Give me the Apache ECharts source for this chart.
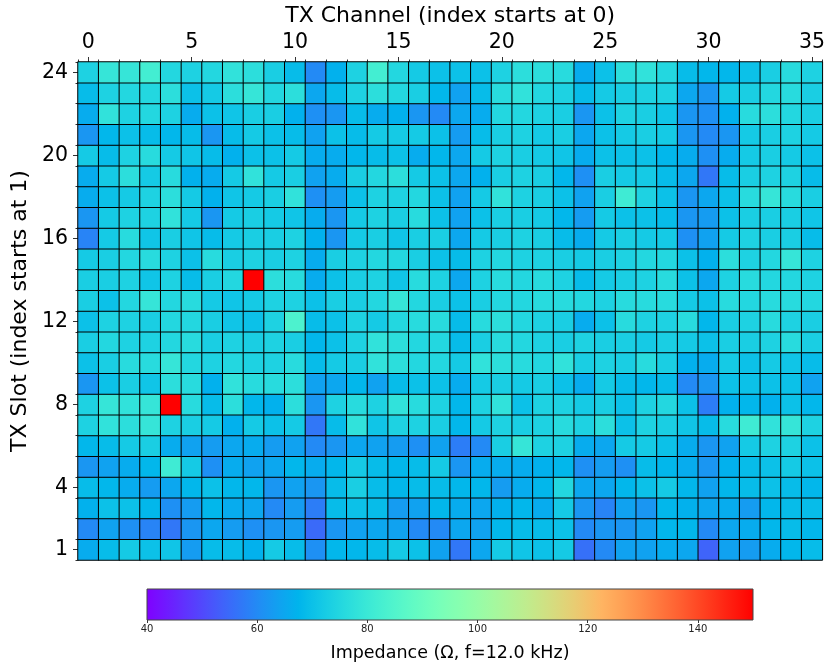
<!DOCTYPE html>
<html>
<head>
<meta charset="utf-8">
<script src="https://cdn.jsdelivr.net/npm/echarts@6/dist/echarts.min.js"></script>
<style>
  html, body { margin: 0; padding: 0; background: #fff; }
  #chart { width: 828px; height: 663px; }
</style>
</head>
<body>
<div id="chart"></div>
<script>
// TX channels (columns) and TX slots (rows)
const channels = ['0','1','2','3','4','5','6','7','8','9','10','11','12','13','14','15','16','17',
                  '18','19','20','21','22','23','24','25','26','27','28','29','30','31','32','33','34','35'];
const slots = ['1','2','3','4','5','6','7','8','9','10','11','12',
               '13','14','15','16','17','18','19','20','21','22','23','24'];
const slotTickLabels = ['1','4','8','12','16','20','24'];
const channelTickLabels = ['0','5','10','15','20','25','30','35'];
const colorbarTicks = [40, 60, 80, 100, 120, 140];

// Impedance in ohms, one row per slot (slot 1 first), one value per channel 0..35
const impedance = [
  [66,69,72,70,71,63,69,69,67,72,69,61, 68,68,69,72,70,64,57,65,72,71,70,72, 56,60,64,64,66,65,54,64,63,66,68,69],
  [60,64,61,59,57,62,65,63,61,62,63,55, 62,64,65,64,60,60,65,64,68,69,69,70, 60,62,62,64,68,68,60,65,66,68,69,68],
  [67,70,70,68,61,63,68,66,65,60,63,58, 69,70,69,63,64,68,66,65,67,68,66,72, 62,59,64,62,68,67,65,66,63,68,69,69],
  [69,68,66,63,65,68,70,68,68,62,64,62, 69,73,69,68,69,69,68,68,63,66,68,75, 65,65,68,70,72,68,64,68,69,70,69,68],
  [62,64,66,68,81,72,61,66,64,65,68,66, 68,72,69,68,69,72,62,66,66,66,67,68, 61,63,61,69,68,66,62,67,69,70,72,70],
  [68,69,72,73,66,64,63,65,66,63,64,60, 62,65,64,63,61,64,58,60,73,79,74,74, 66,65,72,72,70,66,62,64,72,74,74,70],
  [74,78,77,79,74,73,72,67,72,70,72,57, 69,78,71,74,74,73,68,72,74,73,74,76, 74,77,70,74,73,71,69,76,81,78,79,74],
  [74,79,78,79,150,76,69,77,68,67,77,62, 74,76,74,78,76,74,68,74,78,70,74,74, 72,73,70,74,75,70,58,67,68,67,70,68],
  [62,70,73,71,77,76,67,78,76,76,77,64, 65,68,64,69,70,70,66,72,73,72,73,70, 66,72,69,68,69,60,62,70,70,70,70,64],
  [70,73,76,76,79,75,74,75,74,74,76,69, 72,73,78,77,75,75,72,78,77,76,75,78, 73,74,73,76,73,67,66,72,70,72,71,69],
  [73,75,74,74,75,76,73,74,73,74,73,68, 70,74,78,77,75,75,69,73,76,75,74,73, 74,73,73,72,73,72,70,73,73,74,76,73],
  [70,74,74,73,75,75,73,71,70,74,84,69, 70,74,72,75,76,76,69,76,77,75,74,73, 66,70,76,74,74,76,68,73,74,76,74,73],
  [73,70,75,79,75,76,72,71,72,74,74,70, 73,73,75,79,75,73,70,73,75,75,76,76, 75,74,76,76,76,72,70,76,75,76,76,75],
  [73,73,74,71,74,69,73,75,150,77,76,66, 70,73,74,71,76,74,65,74,76,75,76,74, 69,72,73,74,76,70,65,74,76,75,75,74],
  [72,73,75,76,74,70,76,73,74,73,74,66, 73,74,75,75,73,70,69,74,75,74,74,73, 72,73,74,75,75,70,67,77,74,75,79,74],
  [59,72,76,71,73,71,69,72,73,73,74,67, 62,72,73,71,73,73,65,72,73,74,73,69, 66,72,73,72,72,61,64,72,74,73,73,69],
  [62,72,74,74,78,72,62,72,73,72,71,66, 62,72,74,73,76,70,64,70,73,73,72,68, 63,72,70,70,69,62,63,70,73,73,73,71],
  [66,70,72,74,77,72,67,71,72,73,78,61, 63,70,74,74,75,70,64,72,78,74,73,70, 64,73,81,74,70,62,65,70,76,79,76,73],
  [66,72,77,72,76,67,66,72,78,72,73,64, 66,73,75,77,72,70,65,67,73,74,73,68, 61,73,72,72,69,65,57,69,73,74,74,69],
  [72,69,74,76,72,71,69,67,70,70,72,66, 66,68,69,70,66,68,65,72,74,73,72,71, 66,70,70,70,68,66,61,66,72,73,72,70],
  [62,68,70,69,68,69,62,69,72,70,69,64, 70,69,72,72,72,70,63,69,73,74,72,73, 65,70,72,73,72,62,60,62,72,73,74,72],
  [66,78,74,75,74,66,70,71,73,73,67,61, 62,69,66,67,62,60,65,66,75,75,74,73, 62,70,74,73,71,62,61,67,76,77,75,73],
  [69,74,75,75,77,70,72,77,79,75,77,65, 69,74,77,75,73,68,64,69,76,78,75,74, 69,72,73,74,74,65,62,72,73,75,76,73],
  [74,79,79,82,75,74,75,78,77,73,69,60, 67,74,82,75,72,70,70,70,74,77,77,76, 66,70,77,78,75,69,68,68,70,73,76,74]
];

const vMin = 40, vMax = 150;

// matplotlib-style "rainbow" colormap
function rainbow(t) {
  const r = Math.min(1, Math.abs(2 * t - 0.5));
  const g = Math.max(0, Math.sin(Math.PI * t));
  const b = Math.max(0, Math.cos(Math.PI * t / 2));
  const h = v => Math.round(v * 255);
  return 'rgb(' + h(r) + ',' + h(g) + ',' + h(b) + ')';
}
const nStops = 64;
const rampColors = [];
const gradientStops = [];
for (let i = 0; i <= nStops; i++) {
  const t = i / nStops;
  rampColors.push(rainbow(t));
  gradientStops.push({ offset: t, color: rainbow(t) });
}

const cells = [];
impedance.forEach((row, s) => {
  row.forEach((v, c) => cells.push([c, s, v]));
});

const font = 'DejaVu Sans';
const tickFont = 20.5;
const nameFont = 22;

// colorbar placement
const cb = { left: 147, top: 589, width: 606, height: 31 };

const chart = echarts.init(document.getElementById('chart'), null, { renderer: 'canvas' });
chart.setOption({
  animation: false,
  backgroundColor: '#fff',
  textStyle: { fontFamily: font },
  grid: [
    { left: 78, top: 62, width: 747, height: 498 },
    { left: cb.left, top: cb.top, width: cb.width, height: cb.height }
  ],
  xAxis: [
    {
      type: 'category',
      gridIndex: 0,
      position: 'top',
      data: channels,
      name: 'TX Channel (index starts at 0)',
      nameLocation: 'middle',
      nameGap: 31,
      nameTextStyle: { fontSize: nameFont, color: '#000', fontFamily: font },
      axisLine: { show: true, lineStyle: { color: '#333', width: 1 } },
      axisTick: {
        show: true, alignWithLabel: true, length: 5,
        interval: (i, v) => channelTickLabels.includes(v),
        lineStyle: { color: '#333' }
      },
      axisLabel: {
        fontSize: tickFont, color: '#000', margin: 9, fontFamily: font,
        interval: (i, v) => channelTickLabels.includes(v)
      },
      splitLine: { show: false }
    },
    {
      type: 'value',
      gridIndex: 1,
      min: vMin, max: vMax, interval: 20,
      name: 'Impedance (Ω, f=12.0 kHz)',
      nameLocation: 'middle',
      nameGap: 25,
      nameTextStyle: { fontSize: 17.5, color: '#000', fontFamily: font },
      axisLine: { show: false },
      axisTick: { show: true, length: 4, lineStyle: { color: '#333' } },
      axisLabel: {
        fontSize: 10, color: '#222', margin: 5, fontFamily: font,
        showMaxLabel: false,
        formatter: v => (colorbarTicks.includes(v) ? String(v) : '')
      },
      splitLine: { show: false }
    },
    {
      // minor ticks on the cell edges along the channel axis
      type: 'category',
      gridIndex: 0,
      position: 'top',
      data: channels,
      axisLine: { show: false },
      axisTick: { show: true, interval: 0, length: 2.5, lineStyle: { color: '#333' } },
      axisLabel: { show: false },
      splitLine: { show: false }
    }
  ],
  yAxis: [
    {
      type: 'category',
      gridIndex: 0,
      data: slots,
      name: 'TX Slot (index starts at 1)',
      nameLocation: 'middle',
      nameGap: 39,
      nameRotate: 90,
      nameTextStyle: { fontSize: nameFont, color: '#000', fontFamily: font },
      axisLine: { show: true, lineStyle: { color: '#333', width: 1 } },
      axisTick: {
        show: true, alignWithLabel: true, length: 5,
        interval: (i, v) => slotTickLabels.includes(v),
        lineStyle: { color: '#333' }
      },
      axisLabel: {
        fontSize: tickFont, color: '#000', margin: 10, fontFamily: font,
        interval: (i, v) => slotTickLabels.includes(v)
      },
      splitLine: { show: false }
    },
    { type: 'value', gridIndex: 1, show: false, min: 0, max: 1 },
    {
      // minor ticks on the cell edges along the slot axis
      type: 'category',
      gridIndex: 0,
      position: 'left',
      data: slots,
      axisLine: { show: false },
      axisTick: { show: true, interval: 0, length: 2.5, lineStyle: { color: '#333' } },
      axisLabel: { show: false },
      splitLine: { show: false }
    }
  ],
  visualMap: {
    type: 'continuous',
    show: false,
    min: vMin,
    max: vMax,
    seriesIndex: 0,
    dimension: 2,
    inRange: { color: rampColors }
  },
  graphic: [
    {
      type: 'rect',
      z: 10,
      shape: { x: cb.left, y: cb.top, width: cb.width, height: cb.height },
      style: {
        fill: new echarts.graphic.LinearGradient(0, 0, 1, 0, gradientStops),
        stroke: '#444',
        lineWidth: 1
      }
    }
  ],
  series: [
    {
      type: 'heatmap',
      xAxisIndex: 0,
      yAxisIndex: 0,
      data: cells,
      itemStyle: { borderColor: '#000', borderWidth: 1 },
      emphasis: { disabled: true },
      label: { show: false }
    }
  ]
});
</script>
</body>
</html>
